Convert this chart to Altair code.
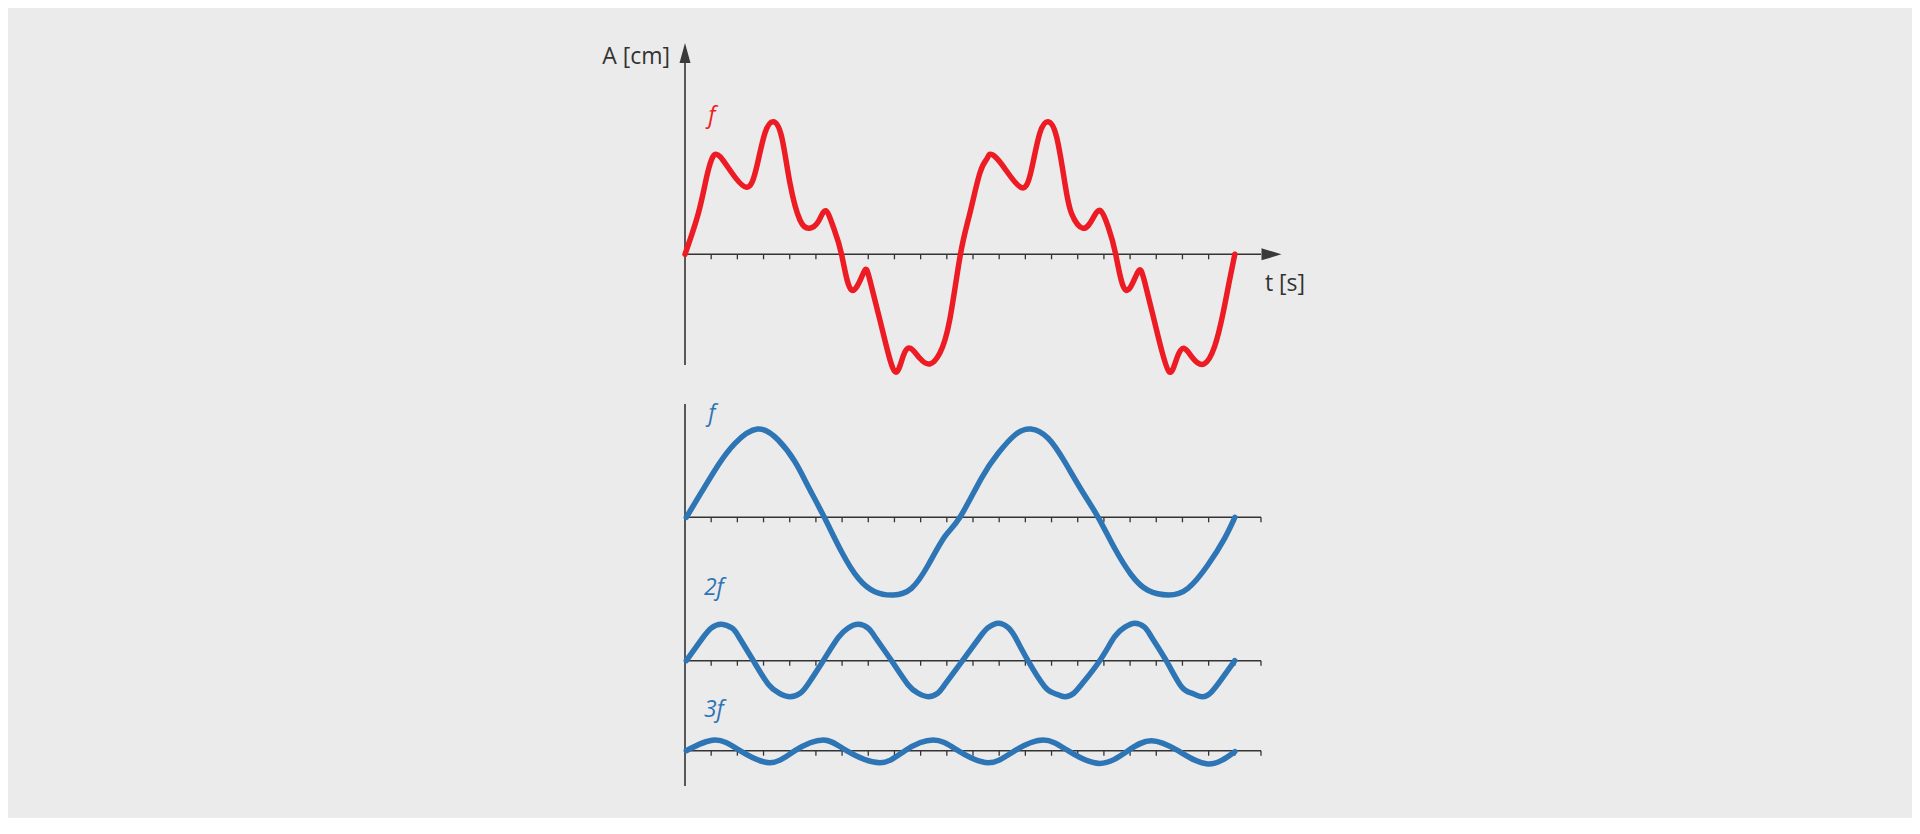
import altair as alt
import pandas as pd

# ---------------- data ----------------
# t in tick units (one tick = one unit), amplitude in chart units
red_t = [0.0, 0.51, 0.83, 1.02, 1.15, 1.35, 1.72, 2.35, 2.74, 3.05, 3.37, 3.69, 4.01, 4.39, 4.75,
         5.09, 5.37, 5.66, 5.98, 6.36, 6.82, 7.06, 7.57, 8.02, 8.33, 8.61, 8.97, 9.35, 9.73, 10.11,
         10.52, 10.88, 11.26, 11.52, 11.64, 11.85, 12.21, 12.85, 13.23, 13.55, 13.87, 14.19,
         14.51, 14.76, 15.2, 15.58, 15.87, 16.16, 16.45, 16.83, 17.28, 17.56, 18.07, 18.49, 18.77,
         19.05, 19.4, 19.82, 20.23, 20.55, 20.8, 21.0]
red_a = [0, 41, 77.6, 95, 100, 97.5, 84, 67, 87.6, 121, 132.6, 117.6, 71, 34.3, 26,
         32.6, 43.6, 27.6, 0, -35.7, -18.4, -25.7, -79, -117.4, -102, -94, -104, -109.7, -99, -65.7,
         0, 41, 81, 95, 100, 97.5, 86, 66.6, 84.3, 121, 132.6, 117.6,
         71, 41, 26, 36, 43.6, 27.6, 0, -35.7, -18.4, -28, -82, -117.4, -105,
         -94, -104, -109.7, -92, -59, -25.7, 0]

f1_t = [0.05, 0.64, 1.27, 1.91, 2.77, 3.56, 4.2, 4.71, 5.32, 5.98, 6.62, 7.25, 7.95, 8.65, 9.29, 9.92,
        10.5, 11.32, 11.96, 12.6, 13.21, 13.87, 14.5, 15.14, 15.78, 16.41, 17.05, 17.68, 18.47, 19.21,
        19.97, 20.61, 21.0]
f1_a = [0, 25.6, 52.3, 74, 88.3, 77.3, 55.6, 30.6, 0, -34.4, -61, -74.4, -77.7, -71, -47.7, -19.4,
        0, 39, 64, 82.3, 88.3, 79, 55.6, 27.3, 0, -31, -57.7, -73, -77.7, -71,
        -47.7, -21, 0]

f2_t = [0.05, 0.64, 1.0, 1.4, 1.8, 2.03, 2.61, 3.18, 3.6, 4.01, 4.4, 4.71, 5.28, 5.85, 6.22, 6.62,
        7.0, 7.25, 7.89, 8.52, 8.9, 9.29, 9.65, 9.92, 10.6, 11.32, 11.6, 11.96, 12.32, 12.6, 13.1,
        13.74, 14.1, 14.5, 14.85, 15.14, 15.84, 16.41, 16.8, 17.18, 17.55, 17.81, 18.38, 18.96, 19.35,
        19.74, 20.1, 20.48, 21.0]
f2_a = [0, 21.5, 32.5, 36.4, 32.5, 25, 0, -23.5, -32.5, -36, -32.5, -23, 0, 23, 32.5, 36.4,
        32.5, 24, 0, -24, -32.5, -36, -32.5, -24, 0, 25.7, 33.5, 37.4, 33.5, 24, 0,
        -26, -32.5, -36, -32.5, -24, 0, 24, 33.5, 37.4, 33.5, 24, 0, -26, -32.5,
        -36, -31.5, -19, 0]

f3_t = [0.05, 1.15, 2.1, 3.24, 4.2, 5.28, 6.17, 7.44, 8.4, 9.48, 10.43, 11.58, 12.6, 13.68, 14.63,
        15.84, 16.92, 17.81, 18.83, 19.97, 21.0]
f3_a = [0, 10.7, 0, -12, 0, 10.7, 0, -12, 0, 10.7, 0, -12, 0, 10.7, 0,
        -12.7, 0, 10, 0, -13.3, -1]

top_ticks = list(range(1, 22))
bottom_ticks = list(range(1, 23))

axis_labels = ["A [cm]", "t [s]"]
series_labels = ["f", "f", "2f", "3f"]

# ---------------- layout / style ----------------
X_MAX = 22
Y_MAX = 743
BASE = {"sum": 531.7, "f": 268.7, "2f": 125.3, "3f": 35.3}
TICK_LEN = 5
RED = "#ed1c24"
BLUE = "#2e75b6"
INK = "#333333"
BG = "#ebebeb"
FONT = "Open Sans"

xs = alt.Scale(domain=[0, X_MAX], nice=False, zero=False)
ys = alt.Scale(domain=[0, Y_MAX], nice=False, zero=False)

curves = []
for name, ts, amps in [("sum", red_t, red_a), ("f", f1_t, f1_a), ("2f", f2_t, f2_a), ("3f", f3_t, f3_a)]:
    for t, a in zip(ts, amps):
        curves.append({"t": t, "y": a + BASE[name], "series": name})
curves = pd.DataFrame(curves)

haxes = pd.DataFrame([
    {"t": 0, "t2": X_MAX, "y": BASE["sum"]},
    {"t": 0, "t2": X_MAX, "y": BASE["f"]},
    {"t": 0, "t2": X_MAX, "y": BASE["2f"]},
    {"t": 0, "t2": X_MAX, "y": BASE["3f"]},
])
vaxes = pd.DataFrame([
    {"t": 0, "y": 421, "y2": 733},
    {"t": 0, "y": 0, "y2": 382},
])
ticks = []
for t in top_ticks:
    ticks.append({"t": t, "y": BASE["sum"], "y2": BASE["sum"] - TICK_LEN})
for k in ["f", "2f", "3f"]:
    for t in bottom_ticks:
        ticks.append({"t": t, "y": BASE[k], "y2": BASE[k] - TICK_LEN})
ticks = pd.DataFrame(ticks)

up_arrow = pd.DataFrame([{"t": 0, "y": 733}])
right_arrow = pd.DataFrame([{"t": 22.4, "y": BASE["sum"]}])

ax_lab = pd.DataFrame([
    {"t": -0.57, "y": 722, "text": axis_labels[0], "align": "right"},
    {"t": 22.15, "y": 495, "text": axis_labels[1], "align": "left"},
])
ser_lab = pd.DataFrame([
    {"t": 1.03, "y": 663.5, "text": series_labels[0], "c": "sum"},
    {"t": 1.03, "y": 365, "text": series_labels[1], "c": "f"},
    {"t": 1.1, "y": 191, "text": series_labels[2], "c": "2f"},
    {"t": 1.1, "y": 69.3, "text": series_labels[3], "c": "3f"},
])

cscale = alt.Scale(domain=["sum", "f", "2f", "3f"], range=[RED, BLUE, BLUE, BLUE])

lines = alt.Chart(curves).mark_line(strokeWidth=5.5, interpolate="natural", strokeCap="round",
                                    strokeJoin="round").encode(
    x=alt.X("t:Q", scale=xs, axis=None),
    y=alt.Y("y:Q", scale=ys, axis=None),
    color=alt.Color("series:N", scale=cscale, legend=None),
    detail="series:N",
)

hrules = alt.Chart(haxes).mark_rule(color=INK, strokeWidth=1.6).encode(
    x=alt.X("t:Q", scale=xs, axis=None), x2="t2:Q", y=alt.Y("y:Q", scale=ys, axis=None))
vrules = alt.Chart(vaxes).mark_rule(color=INK, strokeWidth=1.6).encode(
    x=alt.X("t:Q", scale=xs, axis=None), y=alt.Y("y:Q", scale=ys, axis=None), y2="y2:Q")
tickmarks = alt.Chart(ticks).mark_rule(color=INK, strokeWidth=1.3).encode(
    x=alt.X("t:Q", scale=xs, axis=None), y=alt.Y("y:Q", scale=ys, axis=None), y2="y2:Q")

arrow_up = alt.Chart(up_arrow).mark_point(shape="M0,-1L0.55,1L-0.55,1Z", size=400, filled=True,
                                           color="#3a3a3a", opacity=1, strokeWidth=0).encode(
    x=alt.X("t:Q", scale=xs, axis=None), y=alt.Y("y:Q", scale=ys, axis=None))
arrow_right = alt.Chart(right_arrow).mark_point(shape="M1,0L-1,-0.6L-1,0.6Z", size=400, filled=True,
                                                 color="#3a3a3a", opacity=1, strokeWidth=0).encode(
    x=alt.X("t:Q", scale=xs, axis=None), y=alt.Y("y:Q", scale=ys, axis=None))

lab_right = alt.Chart(ax_lab[ax_lab["align"] == "right"]).mark_text(
    font=FONT, fontSize=23, color=INK, align="right", baseline="alphabetic").encode(
    x=alt.X("t:Q", scale=xs, axis=None), y=alt.Y("y:Q", scale=ys, axis=None), text="text:N")
lab_left = alt.Chart(ax_lab[ax_lab["align"] == "left"]).mark_text(
    font=FONT, fontSize=23, color=INK, align="left", baseline="alphabetic").encode(
    x=alt.X("t:Q", scale=xs, axis=None), y=alt.Y("y:Q", scale=ys, axis=None), text="text:N")

series_text = alt.Chart(ser_lab).mark_text(
    font=FONT, fontSize=23, fontStyle="italic", align="center", baseline="alphabetic").encode(
    x=alt.X("t:Q", scale=xs, axis=None), y=alt.Y("y:Q", scale=ys, axis=None), text="text:N",
    color=alt.Color("c:N", scale=cscale, legend=None))

chart = alt.layer(
    hrules, vrules, tickmarks, arrow_up, arrow_right, lines, lab_right, lab_left, series_text
).properties(
    width=576, height=743,
    autosize=alt.AutoSizeParams(type="none"),
    padding={"left": 677, "top": 35, "right": 651, "bottom": 32},
    background=BG,
).configure_view(strokeWidth=0)

chart.save("out.html", embed_options={"renderer": "svg", "actions": False})
